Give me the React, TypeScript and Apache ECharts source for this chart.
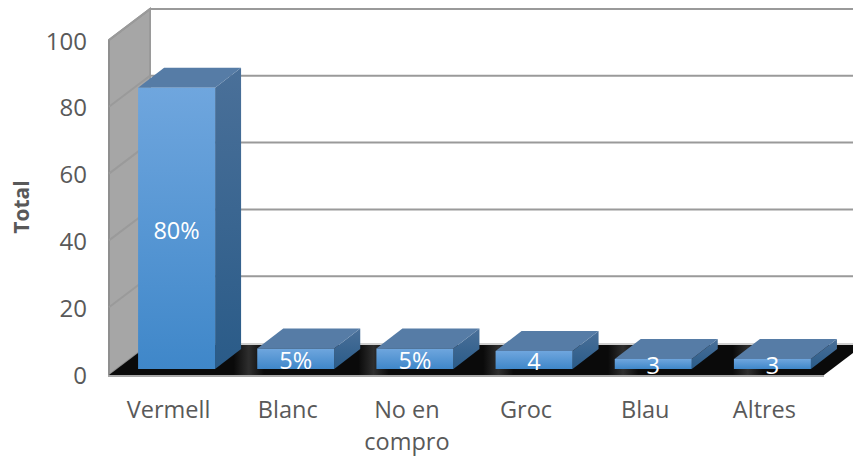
import React, { useEffect, useRef } from "react";
import * as echarts from "echarts";

const categories = ["Vermell", "Blanc", "No en\ncompro", "Groc", "Blau", "Altres"];
const values = [85.7, 7.6, 7.6, 6.9, 4.5, 4.5];
const barLabels = ["80%", "5%", "5%", "4", "3", "3"];
const yTicks = [0, 20, 40, 60, 80, 100];

const FONT = "'Open Sans', sans-serif";
const L = 109, R = 824, T = 40, B = 375;
const DX = 41, DY = -31;
const BX = 26, BY = -20;
const BAR_W = 77, BAR_SHIFT = 8, BAR_LIFT = 5;

const renderBackdrop = (params: any, api: any) => {
  const y = api.coord([0, api.value(1)])[1];
  const children: any[] = [];
  const line = "#9a9a9a";
  if (params.dataIndex === 0) {
    children.push({
      type: "polygon",
      shape: { points: [[L, T], [L + DX, T + DY], [L + DX, B + DY], [L, B]] },
      style: { fill: "#a6a6a6", stroke: "#8f8f8f", lineWidth: 2 },
    });
    children.push({
      type: "polygon",
      shape: { points: [[L, B], [L + DX, B + DY], [R + DX, B + DY], [R, B]] },
      style: {
        fill: {
          type: "linear", x: 0, y: 0, x2: 1, y2: 0,
          colorStops: [
            { offset: 0, color: "#0a0a0a" }, { offset: 0.165, color: "#0a0a0a" },
            { offset: 0.185, color: "#2e2e2e" }, { offset: 0.205, color: "#0a0a0a" },
            { offset: 0.33, color: "#0a0a0a" }, { offset: 0.35, color: "#2e2e2e" },
            { offset: 0.37, color: "#0a0a0a" }, { offset: 0.495, color: "#0a0a0a" },
            { offset: 0.515, color: "#2e2e2e" }, { offset: 0.535, color: "#0a0a0a" },
            { offset: 0.66, color: "#0a0a0a" }, { offset: 0.68, color: "#2e2e2e" },
            { offset: 0.7, color: "#0a0a0a" }, { offset: 0.825, color: "#0a0a0a" },
            { offset: 0.845, color: "#2e2e2e" }, { offset: 0.865, color: "#0a0a0a" },
            { offset: 1, color: "#0a0a0a" },
          ],
        },
      },
    });
    children.push({
      type: "line",
      shape: { x1: L - 1, y1: B + 1, x2: R, y2: B + 1 },
      style: { stroke: "#a8a8a8", lineWidth: 2 },
    });
    children.push({
      type: "line",
      shape: { x1: L + DX, y1: T + DY, x2: L + DX, y2: B + DY },
      style: { stroke: "#9a9a9a", lineWidth: 2 },
    });
    children.push({
      type: "line",
      shape: { x1: L + DX, y1: B + DY, x2: 853, y2: B + DY },
      style: { stroke: "#d0d0d0", lineWidth: 2 },
    });
  } else {
    children.push({
      type: "polyline",
      shape: { points: [[L, y], [L + DX, y + DY], [853, y + DY]] },
      style: { stroke: line, lineWidth: 2, fill: "none" },
    });
  }
  return { type: "group", children };
};

const renderBar = (_params: any, api: any) => {
  const top = api.coord([api.value(0), api.value(1)]);
  const base = api.coord([api.value(0), 0]);
  const x0 = top[0] + BAR_SHIFT - BAR_W / 2;
  const x1 = x0 + BAR_W;
  const yTop = top[1];
  const yBot = base[1] - BAR_LIFT;
  const label = barLabels[api.value(0)];
  return {
    type: "group",
    children: [
      {
        type: "polygon",
        shape: { points: [[x1, yTop], [x1 + BX, yTop + BY], [x1 + BX, yBot + BY], [x1, yBot]] },
        style: {
          fill: {
            type: "linear", x: 0, y: 0, x2: 0, y2: 1,
            colorStops: [{ offset: 0, color: "#4a7099" }, { offset: 1, color: "#2a5b88" }],
          },
        },
      },
      {
        type: "polygon",
        shape: { points: [[x0, yTop], [x0 + BX, yTop + BY], [x1 + BX, yTop + BY], [x1, yTop]] },
        style: { fill: "#567ca6" },
      },
      {
        type: "rect",
        shape: { x: x0, y: yTop, width: BAR_W, height: yBot - yTop },
        style: {
          fill: {
            type: "linear", x: 0, y: 0, x2: 0, y2: 1,
            colorStops: [{ offset: 0, color: "#6fa6de" }, { offset: 1, color: "#3f87c9" }],
          },
        },
      },
      {
        type: "text",
        x: (x0 + x1) / 2,
        y: (yTop + yBot) / 2 + 1.5,
        style: {
          text: label, fill: "#ffffff", font: `23.5px ${FONT}`,
          align: "center", verticalAlign: "middle",
        },
      },
    ],
  };
};

export default function App() {
  const ref = useRef<HTMLDivElement>(null);
  useEffect(() => {
    const chart = echarts.init(ref.current!, undefined, { renderer: "svg" });
    chart.setOption({
      animation: false,
      backgroundColor: "#ffffff",
      grid: { left: L, right: 853 - R, top: T, bottom: 457 - B },
      xAxis: {
        type: "category",
        data: categories,
        axisLine: { show: false },
        axisTick: { show: false },
        splitLine: { show: false },
        axisLabel: {
          color: "#595959", fontFamily: FONT, fontSize: 23.5, lineHeight: 32,
          margin: 19, interval: 0,
        },
      },
      yAxis: {
        type: "value",
        min: 0,
        max: 100,
        interval: 20,
        name: "Total",
        nameLocation: "middle",
        nameGap: 78,
        nameRotate: 90,
        nameTextStyle: { color: "#595959", fontFamily: FONT, fontSize: 21, fontWeight: "bold" },
        axisLine: { show: false },
        axisTick: { show: false },
        splitLine: { show: false },
        axisLabel: { color: "#595959", fontFamily: FONT, fontSize: 24, margin: 22 },
      },
      series: [
        {
          type: "custom",
          silent: true,
          clip: false,
          z: 1,
          renderItem: renderBackdrop,
          encode: { x: 0, y: 1 },
          data: yTicks.map((t) => [0, t]),
        },
        {
          type: "custom",
          silent: true,
          clip: false,
          z: 2,
          renderItem: renderBar,
          encode: { x: 0, y: 1 },
          data: values.map((v, i) => [i, v]),
        },
      ],
    });
    return () => chart.dispose();
  }, []);
  return <div ref={ref} style={{ position: "absolute", left: 0, top: 0, width: 853, height: 457 }} />;
}
